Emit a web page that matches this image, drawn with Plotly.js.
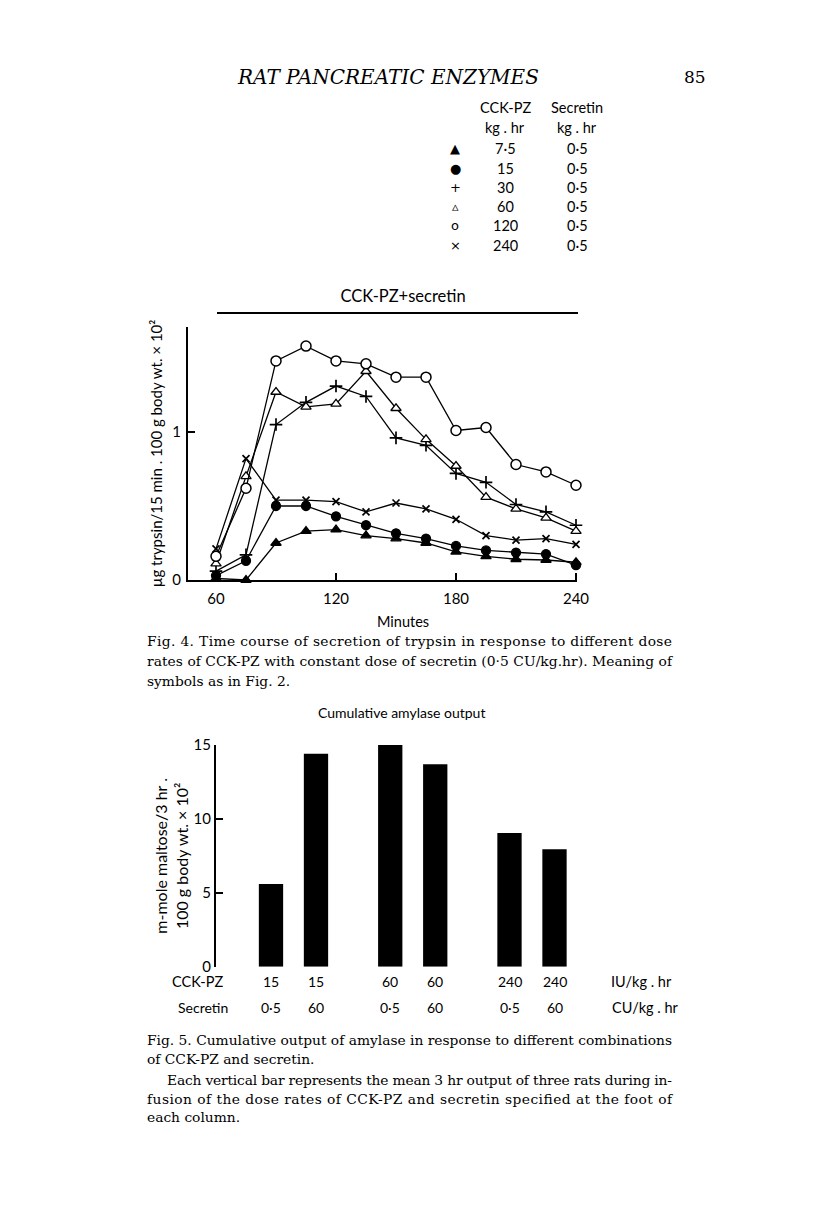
<!DOCTYPE html>
<html>
<head>
<meta charset="utf-8">
<script src="https://cdn.plot.ly/plotly-3.0.1.min.js"></script>
<style>
  html, body { margin: 0; padding: 0; background: #ffffff; }
  #chart { width: 816px; height: 1221px; }
</style>
</head>
<body>
<div id="chart"></div>
<script>
// ---------- Fig. 4 data: trypsin output (µg/15 min . 100 g body wt. ×10²) ----------
const minutes = [60, 75, 90, 105, 120, 135, 150, 165, 180, 195, 210, 225, 240];
const cck7_5 = [0.01, 0.00, 0.25, 0.33, 0.34, 0.30, 0.28, 0.25, 0.19, 0.16, 0.14, 0.135, 0.12];
const cck15  = [0.03, 0.13, 0.50, 0.50, 0.43, 0.37, 0.315, 0.28, 0.23, 0.20, 0.185, 0.175, 0.10];
const cck30  = [0.06, 0.17, 1.05, 1.20, 1.31, 1.24, 0.96, 0.91, 0.72, 0.66, 0.51, 0.46, 0.37];
const cck60  = [0.11, 0.70, 1.27, 1.17, 1.19, 1.41, 1.16, 0.95, 0.77, 0.56, 0.48, 0.42, 0.33];
const cck120 = [0.16, 0.62, 1.48, 1.58, 1.48, 1.46, 1.37, 1.37, 1.01, 1.03, 0.78, 0.73, 0.64];
const cck240 = [0.21, 0.82, 0.54, 0.54, 0.53, 0.46, 0.52, 0.48, 0.41, 0.30, 0.27, 0.28, 0.24];
const xTicks = [60, 120, 180, 240];
const yTicks = [0, 1];

// legend table (CCK-PZ dose, secretin dose, kg.hr)
const legendCck = ["7·5", "15", "30", "60", "120", "240"];
const legendSecretin = ["0·5", "0·5", "0·5", "0·5", "0·5", "0·5"];
const legendSymbols = ["▲", "●", "+", "▵", "o", "×"];

// ---------- Fig. 5 data: cumulative amylase output ----------
const barCck = ["15", "15", "60", "60", "240", "240"];
const barSecretin = ["0·5", "60", "0·5", "60", "0·5", "60"];
const amylase = [5.6, 14.4, 15.4, 13.7, 9.05, 7.95];
const barYTicks = [0, 5, 10, 15];

// ---------- helpers ----------
const W = 816, H = 1221;
const px = v => v / W;          // pixel x -> paper
const py = v => 1 - v / H;      // pixel y -> paper
const SANS = "Lato, 'Open Sans', sans-serif";
const SERIF = "'DejaVu Serif', 'Liberation Serif', serif";
const TEXT_RIGHT = 670;         // right edge of the justified caption block

// bar positions: pairs grouped by CCK-PZ dose, with a wider gap between groups
const groups = [];
barCck.forEach(c => { if (!groups.includes(c)) groups.push(c); });
const barPos = [];
const seen = {};
barCck.forEach(c => {
  const g = groups.indexOf(c);
  seen[c] = (seen[c] || 0);
  barPos.push(g * 2.65 + seen[c]);
  seen[c] += 1;
});

function lineTrace(name, y, symbol, size, fill, lw) {
  return {
    type: "scatter", mode: "lines+markers", name: name,
    x: minutes, y: y, xaxis: "x", yaxis: "y", cliponaxis: false,
    line: { color: "#000", width: 1.3 },
    marker: { symbol: symbol, size: size, color: fill,
              line: { color: "#000", width: lw || 1.3 } },
    showlegend: false
  };
}

const traces = [
  lineTrace("7·5", cck7_5, "triangle-up", 9, "#000"),
  lineTrace("15", cck15, "circle", 9, "#000"),
  lineTrace("30", cck30, "cross-thin", 9, "#000", 1.7),
  lineTrace("60", cck60, "triangle-up", 9, "#fff"),
  lineTrace("120", cck120, "circle", 10, "#fff", 1.5),
  lineTrace("240", cck240, "x-thin", 7, "#000", 1.7),
  {
    type: "bar", x: barPos, y: amylase, xaxis: "x2", yaxis: "y2",
    width: 0.54, marker: { color: "#000", line: { width: 0 } },
    cliponaxis: false, showlegend: false,
    customdata: barCck.map((c, i) => [c, barSecretin[i]]),
    hovertemplate: "CCK-PZ %{customdata[0]}, secretin %{customdata[1]}: %{y}<extra></extra>"
  }
];

const annotations = [];
const justify = [];   // [annotation index, left px] for caption lines set full-measure
function ann(text, x, y, opts) {
  annotations.push(Object.assign({
    text: text, x: px(x), y: py(y), xref: "paper", yref: "paper",
    showarrow: false, xanchor: "center", yanchor: "middle",
    font: { family: SANS, size: 14, color: "#000" }
  }, opts || {}));
}
const CAP = { family: SERIF, size: 13.8, color: "#000" };
function capLine(text, x, y, full) {
  if (full) justify.push([annotations.length, x]);
  ann(text, x, y, { xanchor: "left", font: CAP });
}

// page header
ann("RAT PANCREATIC ENZYMES", 388, 77, { font: { family: SERIF, size: 20, style: "italic", color: "#000" } });
ann("85", 695, 77, { font: { family: SERIF, size: 17, color: "#000" } });

// legend table
ann("CCK-PZ", 505, 107, { font: { family: SANS, size: 14.5, color: "#000" } });
ann("Secretin", 577, 107, { font: { family: SANS, size: 14.5, color: "#000" } });
ann("kg . hr", 505, 128, { font: { family: SANS, size: 14.5, color: "#000" } });
ann("kg . hr", 577, 128, { font: { family: SANS, size: 14.5, color: "#000" } });
legendCck.forEach((c, i) => {
  const y = 149 + i * 19.2;
  ann(legendSymbols[i], 455, y, { font: { family: "DejaVu Sans", size: 13, color: "#000" } });
  ann(c, 505, y, { font: { family: SANS, size: 14.5, color: "#000" } });
  ann(legendSecretin[i], 577, y, { font: { family: SANS, size: 14.5, color: "#000" } });
});

// Fig. 4 axis label and caption
ann("Minutes", 403, 621, { font: { family: SANS, size: 14.5, color: "#000" } });
capLine("Fig. 4. Time course of secretion of trypsin in response to different dose", 145, 641, true);
capLine("rates of CCK-PZ with constant dose of secretin (0·5 CU/kg.hr). Meaning of", 145, 661, true);
capLine("symbols as in Fig. 2.", 145, 681, false);

// Fig. 5 title and bar labels
ann("Cumulative amylase output", 401, 712, { font: { family: SANS, size: 14, color: "#000" } });
ann("CCK-PZ", 197, 981, { font: { family: SANS, size: 14.5, color: "#000" } });
ann("Secretin", 203, 1008, { font: { family: SANS, size: 14, color: "#000" } });
barPos.forEach((p, i) => {
  annotations.push({ text: barCck[i], x: p, y: py(981), xref: "x2", yref: "paper",
    showarrow: false, xanchor: "center", yanchor: "middle",
    font: { family: SANS, size: 14, color: "#000" } });
  annotations.push({ text: barSecretin[i], x: p, y: py(1008), xref: "x2", yref: "paper",
    showarrow: false, xanchor: "center", yanchor: "middle",
    font: { family: SANS, size: 14, color: "#000" } });
});
ann("IU/kg . hr", 641, 981, { font: { family: SANS, size: 14.5, color: "#000" } });
ann("CU/kg . hr", 645, 1008, { font: { family: SANS, size: 14.5, color: "#000" } });

// Fig. 5 caption
capLine("Fig. 5. Cumulative output of amylase in response to different combinations", 145, 1040, true);
capLine("of CCK-PZ and secretin.", 145, 1059, false);
capLine("Each vertical bar represents the mean 3 hr output of three rats during in-", 165, 1080, true);
capLine("fusion of the dose rates of CCK-PZ and secretin specified at the foot of", 145, 1099, true);
capLine("each column.", 145, 1117, false);

const axisBase = {
  showline: true, linecolor: "#000", linewidth: 2, showgrid: false, zeroline: false,
  ticks: "inside", ticklen: 7, tickwidth: 1.5, tickcolor: "#000",
  tickfont: { family: SANS, size: 15, color: "#000" }, fixedrange: true
};

const layout = {
  width: W, height: H,
  margin: { l: 0, r: 0, t: 0, b: 0 },
  paper_bgcolor: "#fff", plot_bgcolor: "rgba(0,0,0,0)",
  title: { text: "CCK-PZ+secretin", x: px(403), y: py(296), xanchor: "center", yanchor: "middle",
           xref: "paper", yref: "paper", font: { family: SANS, size: 16.5, color: "#000" } },
  xaxis: Object.assign({}, axisBase, {
    domain: [px(188), px(577)], range: [46, 240.5], anchor: "y",
    tickvals: xTicks, ticklabelstandoff: 4
  }),
  yaxis: Object.assign({}, axisBase, {
    domain: [py(580), py(327)], range: [0, 1.709], anchor: "x",
    tickvals: yTicks, ticklabelstandoff: 2,
    title: { text: "µg trypsin/15 min . 100 g body wt. × 10²", standoff: 6,
             font: { family: SANS, size: 15, color: "#000" } }
  }),
  xaxis2: {
    domain: [px(216), px(700)], range: [-1.222, (700 - 271) / 45], anchor: "y2",
    visible: false, fixedrange: true
  },
  yaxis2: Object.assign({}, axisBase, {
    domain: [py(966.7), py(745)], range: [0, 15], anchor: "x2",
    tickvals: barYTicks,
    title: { text: "m-mole maltose/3 hr .<br>100 g body wt. × 10²", standoff: 1,
             font: { family: SANS, size: 16, color: "#000" } }
  }),
  shapes: [
    { type: "line", xref: "paper", yref: "paper", x0: px(217), x1: px(578), y0: py(313), y1: py(313),
      line: { color: "#000", width: 2 } }
  ],
  annotations: annotations
};

Plotly.newPlot("chart", traces, layout, { displayModeBar: false, staticPlot: true }).then(gd => {
  // set the full-measure caption lines flush to the right edge, as in the printed page
  const nodes = gd.querySelectorAll(".annotation");
  justify.forEach(([idx, left]) => {
    const g = Array.from(nodes).find(n => n.getAttribute("data-index") === String(idx));
    if (!g) return;
    const t = g.querySelector("text.annotation-text");
    if (!t) return;
    const bb = t.getBBox();
    t.setAttribute("text-anchor", "start");
    t.setAttribute("x", bb.x);
    t.setAttribute("textLength", TEXT_RIGHT - left);
    t.setAttribute("lengthAdjust", "spacing");
  });
});
</script>
</body>
</html>
